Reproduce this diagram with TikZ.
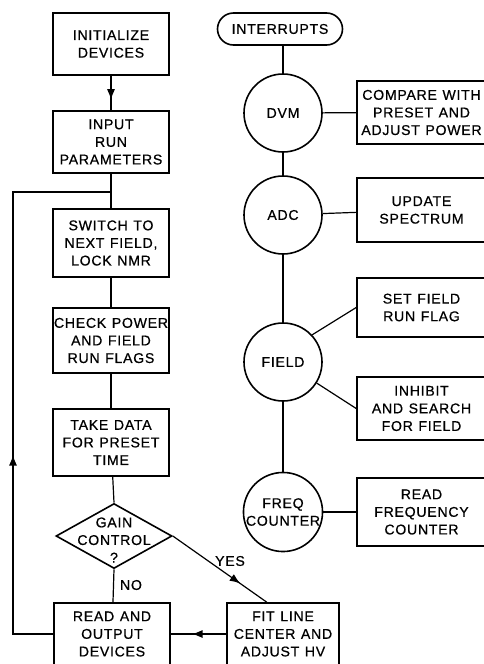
\documentclass[tikz,border=0pt]{standalone}
\usepackage{fontspec}
\setmainfont{Liberation Sans}[LetterSpace=5, WordSpace=1.2, FakeBold=0.6]
\usetikzlibrary{shapes.geometric,shapes.misc,arrows.meta,decorations.markings}
\begin{document}
\begin{tikzpicture}[x=0.75pt,y=-0.75pt,
 every node/.style={font=\fontsize{10.6}{13.2}\selectfont, align=center},
 box/.style={draw, line width=1.2pt, minimum width=87pt, inner sep=0pt},
 rbox/.style={draw, line width=1.2pt, minimum width=96.75pt, inner sep=0pt},
 circ/.style={draw, circle, line width=1.2pt, minimum size=58.5pt, inner sep=0pt},
 ln/.style={line width=0.9pt},
 arr/.style={postaction={decorate}, decoration={markings, mark=at position #1 with {\arrow{Latex[length=8pt,width=6pt]}}}},
]
\useasboundingbox (0,0) rectangle (484,664);
\clip (0,0) rectangle (484,664);
% left column
\node[box, minimum height=46.5pt] (init) at (111,44) {INITIALIZE\\DEVICES};
\node[box, minimum height=46.5pt] (input) at (111,142) {INPUT\\RUN\\PARAMETERS};
\node[box, minimum height=51pt] (switch) at (111,243) {SWITCH TO\\NEXT FIELD,\\LOCK NMR};
\node[box, minimum height=48.75pt] (check) at (111,340.5) {CHECK POWER\\AND FIELD\\RUN FLAGS};
\node[box, minimum height=50pt] (take) at (111,442.5) {TAKE DATA\\FOR PRESET\\TIME};
\node[draw, diamond, line width=1.2pt, minimum width=87pt, minimum height=48.75pt, inner sep=0pt] (gain) at (114,536) {};
\node (gaint) at (114,540) {GAIN\\CONTROL\\?};
\node[box, minimum height=46.5pt] (read) at (112,634) {READ AND\\OUTPUT\\DEVICES};
\node[box, minimum height=46.5pt, minimum width=84pt] (fit) at (283,634) {FIT LINE\\CENTER AND\\ADJUST HV};
\node (yes) at (230,561) {YES};
\node (no) at (131,585) {NO};
% right column
\node[draw, rounded rectangle, line width=1.2pt, minimum width=93.75pt, minimum height=24pt, inner sep=0pt] (intr) at (280,29) {INTERRUPTS};
\node[circ] (dvm) at (283,113) {DVM};
\node[circ] (adc) at (283,215) {ADC};
\node[circ] (field) at (283,362) {FIELD};
\node[circ] (freq) at (283,512) {FREQ\\COUNTER};
\node[rbox, minimum height=47.25pt] (compare) at (421.5,112.5) {COMPARE WITH\\PRESET AND\\ADJUST POWER};
\node[rbox, minimum height=48pt] (update) at (421.5,210) {UPDATE\\SPECTRUM};
\node[rbox, minimum height=44.25pt] (set) at (421.5,307.5) {SET FIELD\\RUN FLAG};
\node[rbox, minimum height=47.25pt] (inhibit) at (421.5,408.5) {INHIBIT\\AND SEARCH\\FOR FIELD};
\node[rbox, minimum height=51pt] (rfreq) at (421.5,512) {READ\\FREQUENCY\\COUNTER};
% connectors
\coordinate (lb) at (13,634);
\coordinate (lt) at (13,192);
\coordinate (lj) at (111,192);
\draw[ln, arr=0.7] (init) -- (input);
\draw[ln] (input) -- (switch);
\draw[ln] (switch) -- (check);
\draw[ln] (check) -- (take);
\draw[ln] (take) -- (gain.north);
\draw[ln] (gain.south) -- (read);
\draw[ln, arr=0.72] (gain.east) -- (fit.117);
\draw[ln, arr=0.62] (fit.west) -- (read.east);
\draw[ln, arr=0.378] (read.west) -- (lb) -- (lt) -- (lj);
\draw[ln] (dvm.north |- intr.south) -- (dvm);
\draw[ln] (dvm) -- (adc);
\draw[ln] (adc) -- (field);
\draw[ln] (field) -- (freq);
\draw[ln] (dvm) -- (compare);
\draw[ln] (adc) -- (update);
\draw[ln] (field.43) -- (set.west);
\draw[ln] (field.-32) -- (inhibit.west);
\draw[ln] (freq) -- (rfreq);
\end{tikzpicture}
\end{document}
